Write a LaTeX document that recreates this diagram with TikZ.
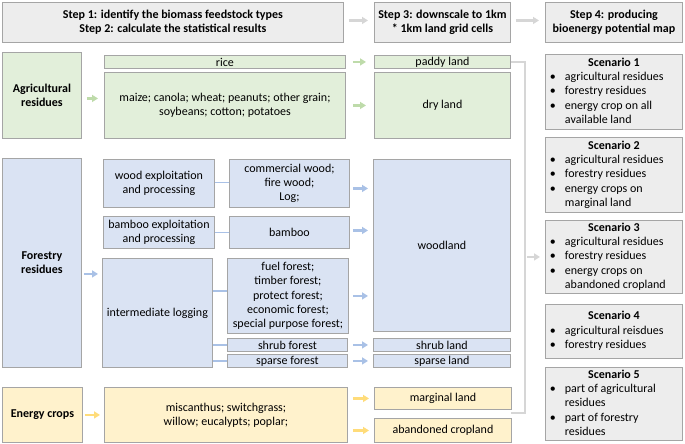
\documentclass[tikz,border=0pt]{standalone}
\usepackage{fontspec}
\setmainfont{Carlito}
\usetikzlibrary{arrows.meta}
\definecolor{gfill}{HTML}{E2EFDA}
\definecolor{bfill}{HTML}{DAE3F3}
\definecolor{yfill}{HTML}{FFF2CC}
\definecolor{hfill}{HTML}{EDEDED}
\definecolor{bord}{HTML}{A5A5A5}
\definecolor{garr}{HTML}{BEDBAA}
\definecolor{barr}{HTML}{A9C1E6}
\definecolor{yarr}{HTML}{FFDC7A}
\definecolor{harr}{HTML}{D6D6D6}
\newcommand\bx[7]{\node[#2, anchor=north west, minimum width={(#5-#3)*1pt}, minimum height={(#6-#4)*1pt}] (#1) at (#3,#4) {#7};}
\tikzset{
  box/.style={draw=bord, line width=0.9pt, inner sep=0.5pt, align=center, font=\fontsize{12}{14.3}\selectfont},
  gbox/.style={box, fill=gfill},
  bbox/.style={box, fill=bfill},
  ybox/.style={box, fill=yfill},
  hbox/.style={box, fill=hfill, font=\fontsize{12}{14}\selectfont\bfseries},
  sbox/.style={box, fill=hfill, font=\fontsize{12}{14.4}\selectfont},
  arr/.style={line width=2.2pt, -{Triangle[length=6pt,width=7pt]}, shorten <=5pt, shorten >=6pt},
  garrow/.style={arr, draw=garr},
  barrow/.style={arr, draw=barr},
  yarrow/.style={arr, draw=yarr},
  harrow/.style={arr, draw=harr},
  bline/.style={draw=barr, line width=1.5pt},
  hline/.style={draw=harr, line width=1.5pt},
}
\newcommand\bul{\hspace*{3pt}\textbullet}
\newcommand\scen[2]{\begin{tabular}{@{}p{13pt}@{\hspace{5pt}}p{116pt}@{}}\multicolumn{2}{c}{\textbf{#1}}\\#2\end{tabular}}
\begin{document}
\begin{tikzpicture}[x=1pt,y=-1pt]
\useasboundingbox (0,0) rectangle (685,444);
% header
\bx{h1}{hbox}{2}{2}{343}{42}{Step 1: identify the biomass feedstock types\\Step 2: calculate the statistical results}
\bx{h2}{hbox}{374}{2}{510}{42}{Step 3: downscale to 1km\\* 1km land grid cells}
\bx{h3}{hbox}{545}{2}{682}{42}{Step 4: producing\\bioenergy potential map}
% agriculture
\bx{agr}{gbox}{2}{52}{81}{138}{\textbf{Agricultural}\\\textbf{residues}}
\bx{rice}{gbox}{104}{55}{345}{68}{rice}
\bx{maize}{gbox}{104}{72}{345}{138}{maize; canola; wheat; peanuts; other grain;\\soybeans; cotton; potatoes}
\bx{paddy}{gbox}{374}{55}{510}{68}{paddy land}
\bx{dry}{gbox}{374}{72}{510}{138}{dry land}
% forestry
\bx{for}{bbox}{2}{158}{81}{367}{\textbf{Forestry}\\\textbf{residues}}
\bx{wood}{bbox}{103}{159}{214}{207}{wood exploitation\\and processing}
\bx{comm}{bbox}{229}{159}{349}{207}{commercial wood;\\fire wood;\\Log;}
\bx{bambx}{bbox}{103}{216}{214}{248}{bamboo exploitation\\and processing}
\bx{bamb}{bbox}{229}{216}{349}{248}{bamboo}
\bx{inter}{bbox}{102}{258}{212}{367}{intermediate logging}
\bx{fuel}{bbox}{227}{258}{348}{333}{fuel forest;\\timber forest;\\protect forest;\\economic forest;\\special purpose forest;}
\bx{shrubf}{bbox}{227}{338}{347}{351}{shrub forest}
\bx{sparsef}{bbox}{227}{354}{347}{367}{sparse forest}
\bx{woodl}{bbox}{373}{159}{510}{331}{woodland}
\bx{shrubl}{bbox}{373}{338}{510}{351}{shrub land}
\bx{sparsel}{bbox}{373}{354}{510}{367}{sparse land}
% energy crops
\bx{ener}{ybox}{2}{387}{82}{442}{\textbf{Energy crops}}
\bx{misc}{ybox}{104}{387}{347}{442}{miscanthus; switchgrass;\\willow; eucalypts; poplar;}
\bx{marg}{ybox}{374}{387}{511}{409}{marginal land}
\bx{aban}{ybox}{374}{418}{511}{442}{abandoned cropland}
% scenarios
\bx{s1}{sbox}{545}{54}{682}{129}{\scen{Scenario 1}{\bul & agricultural residues\\ \bul & forestry residues\\ \bul & energy crop on all\\ & available land}}
\bx{s2}{sbox}{545}{137}{682}{212}{\scen{Scenario 2}{\bul & agricultural residues\\ \bul & forestry residues\\ \bul & energy crops on\\ & marginal land}}
\bx{s3}{sbox}{545}{220}{682}{293}{\scen{Scenario 3}{\bul & agricultural residues\\ \bul & forestry residues\\ \bul & energy crops on\\ & abandoned cropland}}
\bx{s4}{sbox}{545}{304}{682}{358}{\scen{Scenario 4}{\bul & agricultural reisdues\\ \bul & forestry residues}}
\bx{s5}{sbox}{545}{367}{682}{440}{\scen{Scenario 5}{\bul & part of agricultural\\ & residues\\ \bul & part of forestry\\ & residues}}
% header arrows
\draw[harrow] ([yshift=2pt]h1.east) -- ([yshift=2pt]h1.east -| h2.west);
\draw[harrow] ([yshift=2pt]h2.east) -- ([yshift=2pt]h2.east -| h3.west);
% agriculture arrows
\draw[garrow] ([yshift=-3pt]agr.east) -- ([yshift=-3pt]agr.east -| maize.west);
\draw[garrow, shorten <=7pt, shorten >=8pt] (rice.east) -- (paddy.west);
\draw[garrow, shorten <=7pt, shorten >=8pt] (maize.east) -- (dry.west);
% forestry arrows and lines
\draw[barrow, shorten <=2pt, shorten >=4pt] ([yshift=-11pt]for.east) -- ([yshift=-11pt]for.east -| inter.west);
\draw[bline] ([yshift=1pt]wood.east) -- ([yshift=1pt]wood.east -| comm.west);
\draw[bline] (bambx.east) -- (bambx.east -| bamb.west);
\draw[bline] ([yshift=5pt]fuel.west -| inter.east) -- ([yshift=5pt]fuel.west);
\draw[bline] (shrubf.west -| inter.east) -- (shrubf.west);
\draw[bline] (sparsef.west -| inter.east) -- (sparsef.west);
\draw[barrow, shorten <=3pt, shorten >=5pt] ([yshift=-5pt]comm.east) -- ([yshift=-5pt]comm.east -| woodl.west);
\draw[barrow, shorten <=3pt, shorten >=5pt] ([yshift=2pt]bamb.east) -- ([yshift=2pt]bamb.east -| woodl.west);
\draw[barrow, shorten <=4pt, shorten >=5pt] (fuel.east) -- (fuel.east -| woodl.west);
\draw[barrow, shorten <=5pt, shorten >=5pt] (shrubf.east) -- (shrubl.west);
\draw[barrow, shorten <=5pt, shorten >=5pt] (sparsef.east) -- (sparsel.west);
% energy arrows
\draw[yarrow, shorten <=2pt, shorten >=4pt] (ener.east) -- (ener.east -| misc.west);
\draw[yarrow, shorten <=5pt, shorten >=5pt] (misc.east |- marg.west) -- (marg.west);
\draw[yarrow, shorten <=5pt, shorten >=5pt] (misc.east |- aban.west) -- (aban.west);
% bracket to scenarios
\coordinate (bkx) at (525,0);
\coordinate (bkend) at (511,413);
\draw[hline] (paddy.east) -| (bkend -| bkx) -- (bkend);
\draw[harrow, shorten <=2pt, shorten >=5pt] (bkx |- s3.west) -- (s3.west);
\end{tikzpicture}
\end{document}
